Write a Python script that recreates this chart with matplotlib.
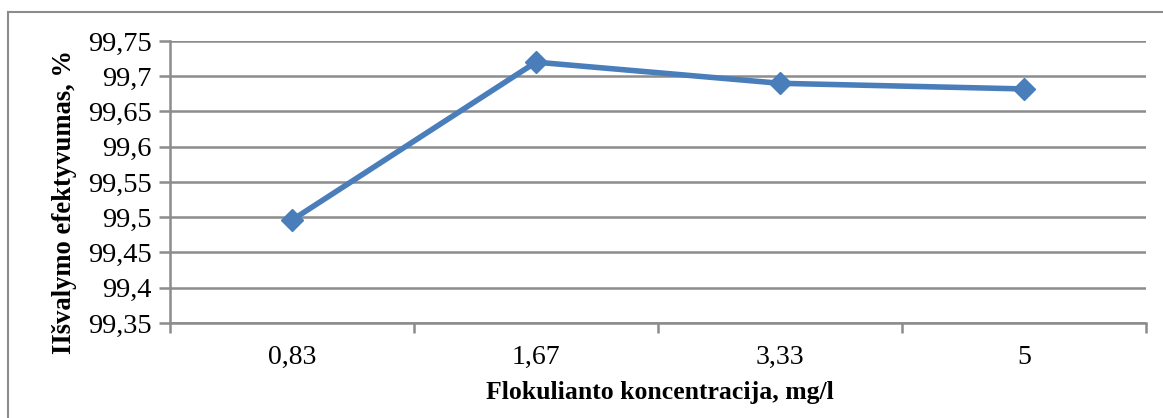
import matplotlib.pyplot as plt

# data
categories = ["0,83", "1,67", "3,33", "5"]
efficiency = [99.496, 99.72, 99.69, 99.682]
y_ticks = [99.35, 99.40, 99.45, 99.50, 99.55, 99.60, 99.65, 99.70, 99.75]
y_tick_labels = ["99,35", "99,4", "99,45", "99,5", "99,55", "99,6", "99,65", "99,7", "99,75"]

plt.rcParams['font.family'] = ['Liberation Serif', 'DejaVu Serif']

fig = plt.figure(figsize=(11.63, 4.18), dpi=100)
W, H = 1163, 418
ax = fig.add_axes([170 / W, 1 - 323 / H, (1146 - 170) / W, (323 - 41) / H])

x = list(range(len(categories)))
ax.plot(x, efficiency, color='#4A7EBB', lw=4, marker='D', markersize=11,
        markeredgecolor='#4A7EBB', markerfacecolor='#4A7EBB', zorder=3, clip_on=False)

ax.set_xlim(-0.5, len(categories) - 0.5)
ax.set_ylim(99.35, 99.75)
ax.set_yticks(y_ticks)
ax.set_yticklabels(y_tick_labels, fontsize=20.5)
ax.set_xticks(x)
ax.set_xticklabels(categories, fontsize=20)
ax.set_xticks([i - 0.5 for i in range(len(categories) + 1)], minor=True)

ax.grid(axis='y', color='#8c8c8c', lw=1.8)
ax.set_axisbelow(True)
for s in ['top', 'right']:
    ax.spines[s].set_visible(False)
for s in ['left', 'bottom']:
    ax.spines[s].set_color('#8c8c8c')
    ax.spines[s].set_linewidth(1.8)

ax.tick_params(axis='y', length=8, width=1.8, color='#8c8c8c', pad=5)
ax.tick_params(axis='x', which='major', length=0, pad=16)
ax.tick_params(axis='x', which='minor', length=7, width=1.8, color='#8c8c8c')

ax.set_xlabel("Flokulianto koncentracija, mg/l", fontsize=18.5, fontweight='bold')
ax.xaxis.set_label_coords(0.502, (323 - 392) / 282)
ax.xaxis.label.set_va('center')
ax.set_ylabel("IIšvalymo efektyvumas, %", fontsize=19.2, fontweight='bold')
ax.yaxis.set_label_coords((65 - 170) / 976, (323 - 202) / 282)
ax.yaxis.label.set_va('center')

# outer chart frame (top and left edges visible)
fig.add_artist(plt.Line2D([8 / W, 1], [1 - 12 / H, 1 - 12 / H], transform=fig.transFigure,
                          color='#8c8c8c', lw=1.5))
fig.add_artist(plt.Line2D([8 / W, 8 / W], [0, 1 - 12 / H], transform=fig.transFigure,
                          color='#8c8c8c', lw=1.5))

fig.savefig("out.png", dpi=100)
